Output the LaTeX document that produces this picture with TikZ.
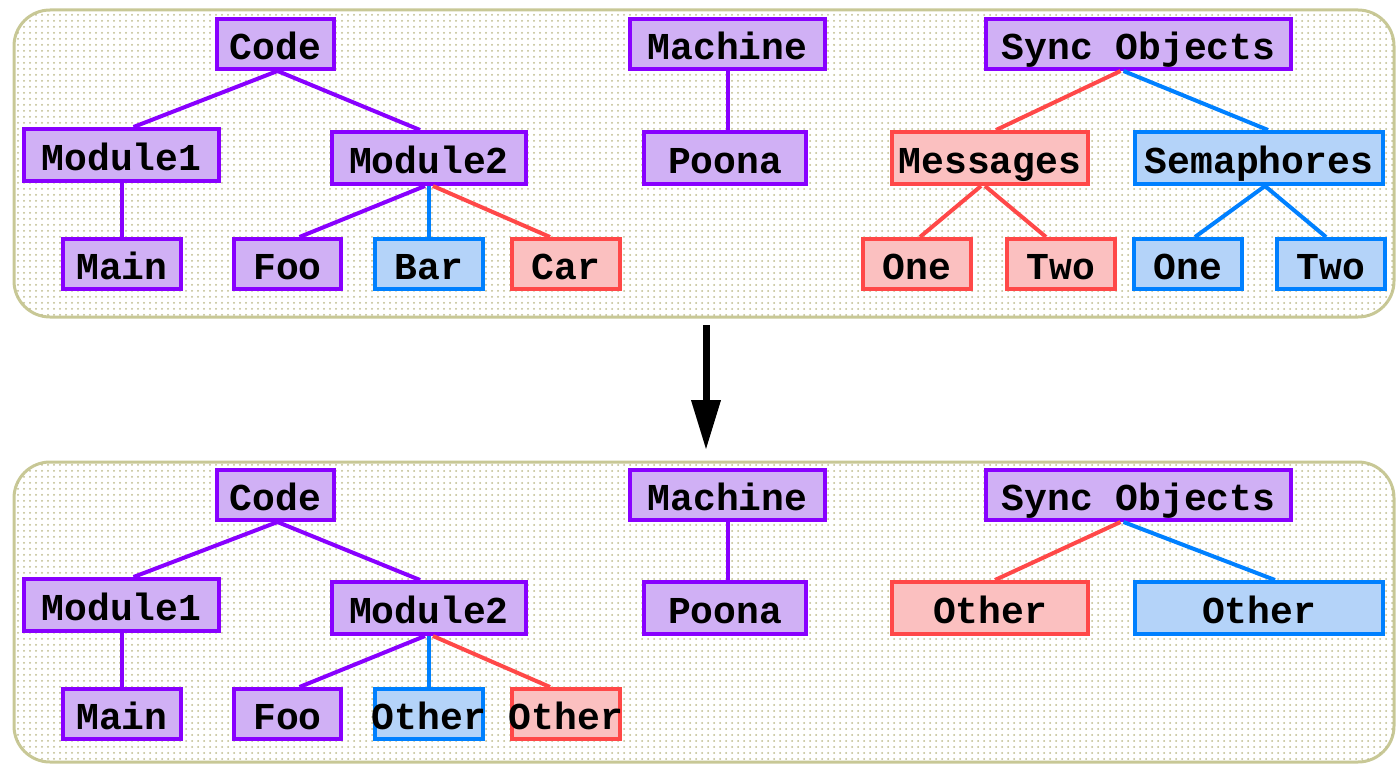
\documentclass[tikz,border=0pt]{standalone}
\usepackage{fontspec}
\newfontfamily\boxfont{Liberation Mono}
\usetikzlibrary{arrows.meta,calc,patterns}

\definecolor{vio}{RGB}{136,0,255}
\definecolor{viofill}{RGB}{208,176,245}
\definecolor{redc}{RGB}{255,72,72}
\definecolor{redfill}{RGB}{251,192,192}
\definecolor{bluc}{RGB}{0,128,255}
\definecolor{blufill}{RGB}{180,211,249}
\definecolor{panelc}{RGB}{200,200,150}
\definecolor{dotc}{RGB}{190,188,140}

\tikzset{
  box/.style={draw, line width=2pt, inner sep=0pt, text=black,
    font=\boxfont\bfseries\fontsize{19}{19}\selectfont,
    text height=15.5pt, text depth=0pt, minimum height=25pt},
  w/.style={minimum width={(#1)*0.5pt-2pt}},
  mid/.style={minimum height=26pt},
  vbox/.style={box, draw=vio, fill=viofill},
  rbox/.style={box, draw=redc, fill=redfill},
  bbox/.style={box, draw=bluc, fill=blufill},
  vlink/.style={line width=2pt, draw=vio},
  rlink/.style={line width=2pt, draw=redc},
  blink/.style={line width=2pt, draw=bluc},
  panel/.style={draw=panelc, line width=1.5pt, rounded corners=18pt,
    fill=white, postaction={pattern=dots, pattern color=dotc}},
}

\begin{document}
\begin{tikzpicture}[x=0.5pt, y=-0.5pt]
\useasboundingbox (0,0) rectangle (1397,765);

% background panels
\path[panel] (14,10) rectangle (1394,317);
\path[panel] (14,462) rectangle (1394,762);

% ---------- upper tree ----------
\node[vbox,w=121] (code) at (275.5,44) {Code};
\node[vbox,w=199] (machine) at (727.5,44) {Machine};
\node[vbox,w=309] (sync) at (1138.5,44) {Sync Objects};
\node[vbox,w=199,mid] (mod1) at (121.5,155) {Module1};
\node[vbox,w=198,mid] (mod2) at (429,158) {Module2};
\node[vbox,w=166,mid] (poona) at (725,158) {Poona};
\node[rbox,w=200,mid] (msg) at (990,158) {Messages};
\node[bbox,w=252,mid] (sem) at (1259,158) {Semaphores};
\node[vbox,w=122] (main) at (122,264) {Main};
\node[vbox,w=111] (foo) at (287.5,264) {Foo};
\node[bbox,w=112] (bar) at (429,264) {Bar};
\node[rbox,w=112] (car) at (566,264) {Car};
\node[rbox,w=112] (mone) at (917,264) {One};
\node[rbox,w=112] (mtwo) at (1061,264) {Two};
\node[bbox,w=112] (sone) at (1188,264) {One};
\node[bbox,w=112] (stwo) at (1331,264) {Two};

\draw[vlink] ($(code.south)+(2,0)$) -- ($(mod1.north)+(12,0)$);
\draw[vlink] ($(code.south)+(2,0)$) -- ($(mod2.north)+(-9,0)$);
\draw[vlink] (machine.south) -- (machine.south |- poona.north);
\draw[vlink] (mod1.south) -- (mod1.south |- main.north);
\draw[vlink] ($(mod2.south)+(-4,0)$) -- ($(foo.north)+(12,0)$);
\draw[blink] (mod2.south) -- (bar.north);
\draw[rlink] ($(mod2.south)+(4,0)$) -- ($(car.north)+(-16,0)$);
\draw[rlink] ($(sync.south)+(-18,0)$) -- ($(msg.north)+(6,0)$);
\draw[blink] ($(sync.south)+(-15,0)$) -- ($(sem.north)+(9,0)$);
\draw[rlink] ($(msg.south)+(-9,0)$) -- ($(mone.north)+(3,0)$);
\draw[rlink] ($(msg.south)+(-5,0)$) -- ($(mtwo.north)+(-15,0)$);
\draw[blink] ($(sem.south)+(6,0)$) -- ($(sone.north)+(7,0)$);
\draw[blink] ($(sem.south)+(6,0)$) -- ($(stwo.north)+(-5,0)$);

% ---------- transition arrow ----------
\coordinate (arrtop) at (706,325);
\coordinate (arrtip) at (706,450);
\draw[line width=3.5pt, -{Triangle[width=14pt,length=25pt]}] (arrtop) -- (arrtip);

% ---------- lower tree ----------
\node[vbox,w=121] (codeB) at (275.5,495) {Code};
\node[vbox,w=199] (machineB) at (727.5,495) {Machine};
\node[vbox,w=309] (syncB) at (1138.5,495) {Sync Objects};
\node[vbox,w=199,mid] (mod1B) at (121.5,605) {Module1};
\node[vbox,w=198,mid] (mod2B) at (429,608) {Module2};
\node[vbox,w=166,mid] (poonaB) at (725,608) {Poona};
\node[rbox,w=200,mid] (otherR) at (990,608) {Other};
\node[bbox,w=252,mid] (otherB) at (1259,608) {Other};
\node[vbox,w=122] (mainB) at (122,714) {Main};
\node[vbox,w=111] (fooB) at (287.5,714) {Foo};
\node[bbox,w=112] (barB) at (429,714) {\makebox[0pt]{Other}};
\node[rbox,w=112] (carB) at (566,714) {\makebox[0pt]{Other}};

\draw[vlink] ($(codeB.south)+(2,0)$) -- ($(mod1B.north)+(12,0)$);
\draw[vlink] ($(codeB.south)+(2,0)$) -- ($(mod2B.north)+(-9,0)$);
\draw[vlink] (machineB.south) -- (machineB.south |- poonaB.north);
\draw[vlink] (mod1B.south) -- (mod1B.south |- mainB.north);
\draw[vlink] ($(mod2B.south)+(-4,0)$) -- ($(fooB.north)+(12,0)$);
\draw[blink] (mod2B.south) -- (barB.north);
\draw[rlink] ($(mod2B.south)+(4,0)$) -- ($(carB.north)+(-16,0)$);
\draw[rlink] ($(syncB.south)+(-18,0)$) -- ($(otherR.north)+(5,0)$);
\draw[blink] ($(syncB.south)+(-15,0)$) -- ($(otherB.north)+(16,0)$);
\end{tikzpicture}
\end{document}
